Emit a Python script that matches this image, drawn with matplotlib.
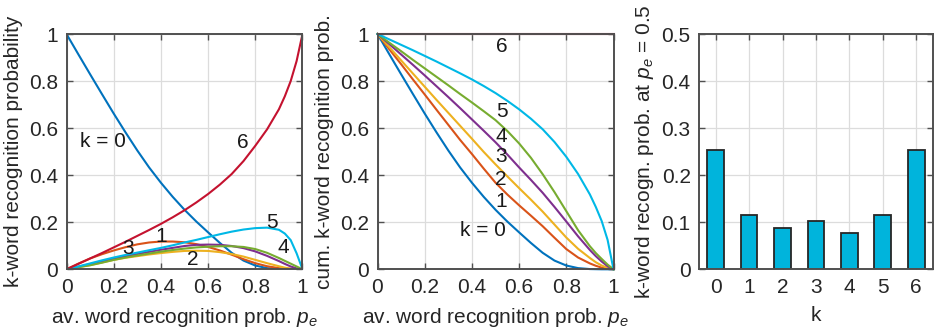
import numpy as np
import matplotlib
matplotlib.use("Agg")
import matplotlib.pyplot as plt
from matplotlib.ticker import FuncFormatter

plt.rcParams['font.family'] = ['Liberation Sans', 'DejaVu Sans']
plt.rcParams['mathtext.fontset'] = 'custom'
plt.rcParams['mathtext.rm'] = 'Liberation Sans'
plt.rcParams['mathtext.it'] = 'Liberation Sans:italic'

# ---------------- data ----------------
pe = [0.0, 0.05, 0.1, 0.15, 0.2, 0.25, 0.3, 0.35, 0.4, 0.45, 0.5,
      0.55, 0.6, 0.65, 0.7, 0.75, 0.8, 0.85, 0.9, 0.925, 0.95, 0.975, 1.0]

# k-word recognition probability (left panel)
prob_k0 = [1.0, 0.914, 0.829, 0.745, 0.662, 0.582, 0.505, 0.433, 0.368, 0.308, 0.253,
           0.203, 0.157, 0.112, 0.07, 0.037, 0.016, 0.005, 0.001, 0.0005, 0.0, 0.0, 0.0]
prob_k1 = [0.0, 0.024, 0.046, 0.064, 0.08, 0.094, 0.106, 0.114, 0.118, 0.118, 0.115,
           0.107, 0.095, 0.08, 0.062, 0.043, 0.026, 0.013, 0.005, 0.003, 0.001, 0.0, 0.0]
prob_k2 = [0.0, 0.009, 0.018, 0.029, 0.04, 0.049, 0.056, 0.063, 0.069, 0.074, 0.078,
           0.079, 0.078, 0.073, 0.065, 0.054, 0.04, 0.026, 0.013, 0.007, 0.003, 0.001, 0.0]
prob_k3 = [0.0, 0.011, 0.022, 0.034, 0.045, 0.055, 0.065, 0.074, 0.083, 0.091, 0.099,
           0.104, 0.105, 0.104, 0.099, 0.09, 0.076, 0.057, 0.035, 0.023, 0.012, 0.004, 0.0]
prob_k4 = [0.0, 0.009, 0.017, 0.028, 0.04, 0.05, 0.059, 0.067, 0.075, 0.082, 0.088,
           0.093, 0.096, 0.098, 0.098, 0.095, 0.086, 0.07, 0.048, 0.036, 0.024, 0.012, 0.0]
prob_k5 = [0.0, 0.012, 0.025, 0.038, 0.05, 0.061, 0.071, 0.081, 0.091, 0.102, 0.114,
           0.125, 0.137, 0.149, 0.16, 0.169, 0.175, 0.177, 0.168, 0.152, 0.124, 0.068, 0.0]
prob_k6 = [0.0, 0.023, 0.046, 0.069, 0.093, 0.117, 0.142, 0.167, 0.193, 0.221, 0.251,
           0.284, 0.32, 0.36, 0.405, 0.46, 0.525, 0.595, 0.68, 0.735, 0.8, 0.885, 1.0]

# cumulative k-word recognition probability (middle panel); k=0 equals prob_k0
cum_k1 = [1.0, 0.935, 0.872, 0.807, 0.743, 0.678, 0.614, 0.55, 0.49, 0.428, 0.368,
          0.318, 0.272, 0.228, 0.183, 0.134, 0.086, 0.05, 0.025, 0.015, 0.007, 0.002, 0.0]
cum_k2 = [1.0, 0.944, 0.888, 0.832, 0.776, 0.72, 0.665, 0.61, 0.555, 0.499, 0.446,
          0.395, 0.345, 0.296, 0.245, 0.19, 0.135, 0.087, 0.048, 0.03, 0.016, 0.006, 0.0]
cum_k3 = [1.0, 0.957, 0.913, 0.869, 0.824, 0.778, 0.732, 0.685, 0.637, 0.589, 0.54,
          0.488, 0.433, 0.38, 0.325, 0.265, 0.203, 0.14, 0.082, 0.056, 0.033, 0.013, 0.0]
cum_k4 = [1.0, 0.963, 0.927, 0.89, 0.854, 0.818, 0.782, 0.745, 0.709, 0.672, 0.634,
          0.588, 0.535, 0.474, 0.404, 0.328, 0.247, 0.166, 0.098, 0.069, 0.044, 0.02, 0.0]
cum_k5 = [1.0, 0.977, 0.954, 0.931, 0.907, 0.883, 0.858, 0.833, 0.807, 0.779, 0.749,
          0.716, 0.68, 0.64, 0.595, 0.541, 0.478, 0.405, 0.318, 0.265, 0.205, 0.125, 0.0]
cum_k6 = [1.0, 1.0, 1.0, 1.0, 1.0, 1.0, 1.0, 1.0, 1.0, 1.0, 1.0,
          1.0, 1.0, 1.0, 1.0, 1.0, 1.0, 1.0, 1.0, 1.0, 1.0, 1.0, 1.0]

# bar chart at p_e = 0.5
bar_k = [0, 1, 2, 3, 4, 5, 6]
bar_vals = [0.253, 0.115, 0.087, 0.102, 0.077, 0.116, 0.253]

line_labels = ['k = 0', '1', '2', '3', '4', '5', '6']

# ---------------- style ----------------
colors = ['#0072BD', '#D95319', '#EDB120', '#7E2F8E', '#77AC30', '#00B8E6', '#C4122F']
txt_color = '#262626'
fs = 15

fig = plt.figure(figsize=(9.35, 3.35), dpi=100)
ax1 = fig.add_axes([66.5 / 935, 1 - 269.3 / 335, 236 / 935, 235.3 / 335])
ax2 = fig.add_axes([377.5 / 935, 1 - 269.3 / 335, 236 / 935, 235.3 / 335])
ax3 = fig.add_axes([699 / 935, 1 - 269.3 / 335, 234 / 935, 235.3 / 335])

fmt = FuncFormatter(lambda v, p: ('%g' % round(v, 3)))


def style(ax):
    ax.grid(True, color='#dcdcdc', linewidth=0.9)
    ax.set_axisbelow(True)
    for s in ax.spines.values():
        s.set_color('#505050')
        s.set_linewidth(1.4)
    ax.tick_params(direction='in', top=True, right=True, length=4, width=1.0,
                   color='#505050', labelsize=fs, labelcolor=txt_color, pad=6)
    ax.xaxis.set_major_formatter(fmt)
    ax.yaxis.set_major_formatter(fmt)


# Left panel
probs = [prob_k0, prob_k1, prob_k2, prob_k3, prob_k4, prob_k5, prob_k6]
for y, c in zip(probs, colors):
    ax1.plot(pe, y, color=c, lw=1.5)
ax1.set_xlim(0, 1)
ax1.set_ylim(0, 1)
ax1.set_xticks([0, 0.2, 0.4, 0.6, 0.8, 1])
ax1.set_yticks([0, 0.2, 0.4, 0.6, 0.8, 1])
style(ax1)
ax1.set_xlabel('av. word recognition prob. $p_e$', fontsize=fs, color=txt_color, labelpad=7)
ax1.set_ylabel('k-word recognition probability', fontsize=fs, color=txt_color, labelpad=4)
left_pos = [(0.155, 0.543), (0.403, 0.139), (0.537, 0.043), (0.262, 0.089),
            (0.919, 0.094), (0.869, 0.198), (0.749, 0.539)]
for lab, (x, y) in zip(line_labels, left_pos):
    ax1.text(x, y, lab, ha='center', va='center', fontsize=fs, color='#1a1a1a')

# Middle panel
cums = [prob_k0, cum_k1, cum_k2, cum_k3, cum_k4, cum_k5, cum_k6]
for y, c in zip(cums, colors):
    ax2.plot(pe, y, color=c, lw=1.5, clip_on=False)
ax2.set_xlim(0, 1)
ax2.set_ylim(0, 1)
ax2.set_xticks([0, 0.2, 0.4, 0.6, 0.8, 1])
ax2.set_yticks([0, 0.2, 0.4, 0.6, 0.8, 1])
style(ax2)
ax2.set_xlabel('av. word recognition prob. $p_e$', fontsize=fs, color=txt_color, labelpad=7)
ax2.set_ylabel('cum. k-word recognition prob.', fontsize=fs, color=txt_color, labelpad=4)
mid_pos = [(0.448, 0.167), (0.523, 0.288), (0.523, 0.38), (0.523, 0.479),
           (0.523, 0.564), (0.526, 0.671), (0.526, 0.947)]
for lab, (x, y) in zip(line_labels, mid_pos):
    ax2.text(x, y, lab, ha='center', va='center', fontsize=fs, color='#1a1a1a')

# Right panel
ax3.bar(bar_k, bar_vals, width=0.5, color='#00B4DC', edgecolor='#262626', linewidth=1.3)
ax3.set_xlim(-0.5, 6.5)
ax3.set_ylim(0, 0.5)
ax3.set_xticks(bar_k)
ax3.set_yticks([0, 0.1, 0.2, 0.3, 0.4, 0.5])
style(ax3)
ax3.set_xlabel('k', fontsize=fs, color=txt_color, labelpad=7)
ax3.set_ylabel('k-word recogn. prob. at $p_e$ = 0.5', fontsize=fs, color=txt_color, labelpad=4)

fig.savefig('out.png', dpi=100)
